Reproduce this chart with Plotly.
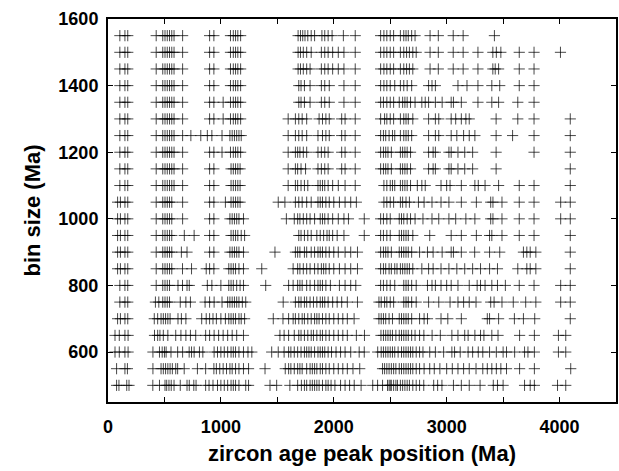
import plotly.graph_objects as go

bin_sizes = [1550, 1500, 1450, 1400, 1350, 1300, 1250, 1200, 1150, 1100, 1050,
             1000, 950, 900, 850, 800, 750, 700, 650, 600, 550, 500]

row_1550 = [105,150,175, 427,485,505,525,545,565,585,661, 900,938, 1085,1110,1130,1150,1175,
            1684,1705,1725,1745,1770,1800,1830, 1895,1920,1950,1985, 2085,2190,
            2415,2444,2470,2500,2530, 2590,2620,2640,2660,2690,2720, 2853,2926, 3058,3146, 3423]
row_1500 = [105,150,175, 427,485,505,525,545,565,585,661, 900,938, 1085,1110,1130,1150,1175,
            1684,1705,1730,1760,1800, 1890,1920,1950,1990,2040, 2090,2190,
            2415,2444,2470,2500,2530, 2590,2620,2645,2670,2700,2730, 2853,2926, 3058,3146, 3277,
            3409,3440,3480, 3643,3774, 4008]
row_1450 = [105,150,175, 427,485,505,525,545,565,585,661, 900,938, 1085,1110,1130,1150,1175,
            1684,1705,1730,1760,1790, 1890,1920,1950,1990,2040, 2090,2190,
            2415,2444,2470,2500,2530, 2590,2620,2645,2670,2700, 2853,2926, 3058,3146, 3277,
            3409,3430,3460, 3643,3774]
row_1400 = [105,150,175, 427,485,505,525,545,565,585,661, 900,938, 1085,1110,1130,1150,1175,
            1690,1710,1740,1790, 1890,1920,1960, 2090,2190,
            2415,2444,2470,2500,2540, 2590,2620,2650,2690, 2840,2870,2900, 3100,3180, 3277,
            3400,3470, 3643,3774]
row_1350 = [105,150,175, 427,485,505,525,545,565,585,661, 900,938, 1020, 1085,1110,1130,1150,1175,
            1690,1710,1740,1790, 1890,1920,1960, 2090,2190,
            2415,2440,2470,2500,2530, 2580,2610,2630,2650,2680,2720, 2780,2810,2840,2900,2960,
            3040,3060,3130, 3277, 3400,3460, 3630,3774]
row_1300 = [105,150,175, 427,485,505,525,545,565,585,661, 900,938, 1020, 1085,1110,1130,1150,1175,
            1596, 1660,1690,1720,1760, 1870,1900,1930,1960, 2070,2100,2190,
            2415,2450,2470,2500,2530, 2590,2620,2640,2660,2700, 2840,2900,2930,
            3040,3080,3130,3170,3200, 3438, 3630,3774, 4095]
row_1250 = [105,150,175, 427,485,505,525,545,565,585,661,734, 822,880,920,1010,
            1080,1100,1120,1140,1160,1180,
            1596,1660,1690,1720,1760, 1860,1900,1930,1960, 2070,2100,2190,
            2415,2440,2460,2490,2520,2540, 2590,2620,2640,2660,2690, 2840,2900,2930,
            3040,3090,3150,3200,3250, 3438, 3584, 3774, 4095]
row_1200 = [105,150,175, 427,485,505,525,545,565,585,661, 900,938,1010, 1085,1110,1130,1150,1175,
            1596,1660,1680,1700,1730,1760, 1860,1890,1920,1950, 2070,2100,2190,
            2415,2440,2460,2480,2510, 2590,2610,2630,2650,2680, 2840,2880,2900,
            3020,3040,3100,3160,3230, 3438, 3774, 4095]
row_1150 = [105,150,175, 427,485,505,525,545,565,585,661, 900,938, 1090,1110,1130,1150,1170,
            1596,1660,1680,1710,1750, 1860,1890,1920,1950, 2070,2100,2190,
            2415,2440,2460,2480,2510, 2590,2610,2630,2650,2680, 2840,2880,2900,
            3020,3040,3100,3160,3230, 3438, 4095]
row_1100 = [105,150,175, 427,485,505,525,545,565,585,661, 900,938, 1090,1110,1130,1150,1170,
            1596,1660,1680,1710,1740,1770, 1860,1880,1900,1920,1950,1990,2040, 2100,2190,
            2444,2470,2500,2520,2540, 2590,2610,2630,2650,2680, 2740,2780,2810,2950,
            3000,3030,3130, 3250,3280,3340,3460, 3643,3774, 4095]
row_1050 = [85,110,150,175, 427,485,505,525,545,565,661, 900,938,1040, 1090,1110,1130,1150,1170,
            1508,1567, 1660,1690,1720,1760,1800, 1860,1880,1900,1930,1960,2000,
            2050,2100,2150,2200,
            2444,2470,2500,2530, 2590,2610,2640,2670, 2750,2800,2870,2950, 3020,3130, 3263,
            3390,3410,3490, 3643,3774, 4010,4095]
row_1000 = [85,110,150,175, 427,485,505,525,545,565,661, 900,938,
            1080,1100,1120,1140,1160,1200,
            1580,1650,1680,1700,1730,1760,1790,1830, 1880,1900,1920,1950,1990,2040, 2090,2130, 2270,
            2415,2440,2470,2500, 2580,2600,2620,2650,2680,2720, 2790,2870,2930,
            3020,3080,3170,3250, 3390,3410,3490, 3643,3774, 4010,4095]
row_950 = [85,110,150,175, 427,485,505,525,545,565,676,763, 900,938,
           1090,1110,1130,1150,1180,1210,
           1690,1710,1740,1770,1800, 1850,1880,1910,1940,1960,1990,2030, 2090, 2270,
           2415,2440,2470,2500, 2580,2600,2620,2640,2660,2700, 2850, 3040,3130, 3263,
           3380,3400,3490, 3643,3774, 4095]
row_900 = [85,110,150,175, 427,485,505,525,545,565,650,700, 900,938,
           1080,1100,1120,1140,1160,1200, 1479,
           1660,1680,1700,1740,1760,1800,1830, 1860,1880,1900,1930,1960,2000,2040, 2100,2150, 2210,
           2415,2440,2460,2480,2510, 2580,2600,2620,2640,2660,2690, 2760, 2830,2880,2960,
           3040,3060,3130, 3248, 3380,3470, 3680,3710,3740,3790, 4095]
row_850 = [85,110,150,175, 427,485,505,525,545,565,660,740, 870,900,938,
           1070,1090,1110,1130,1160,1200, 1362,
           1640,1680,1700,1730,1760,1790,1830,1860,1890,1910,1930,1960,2000,2050, 2100,2150, 2210,
           2415,2440,2460,2490,2510,2540,2560,2590,2610,2630,2650,2670,2700, 2780,2840,2880,
           2950,3020,3090,3160,3230,3300,3380,3450, 3630, 3710,3740,3790, 4095]
row_800 = [105,150,175, 427,485,505,525,545, 620,660,700,720, 880,920,1000,
           1070,1090,1110,1140,1170,1200, 1397,
           1600,1640,1680,1700,1720,1760,1790,1830,1860,1880,1900,1930,1970, 2050,2100,2150,2195,
           2415,2440,2470,2500,2540, 2620,2640,2660,2690,2730,
           2830,2870,2900,2950,3000,3040,3100,3200, 3270,3300,3340,3400,3450,3520,
           3643,3774, 4010,4095]
row_750 = [105,150,175, 420,450,485,505,525,545, 640,690,730, 860,900,940,1010,
           1060,1080,1100,1120,1140,1160,1190,1220, 1552,
           1660,1690,1710,1740,1760,1790,1820,1850,1880,1900,1920,1950,1990,2030, 2070,2120,2210,
           2400,2420,2450,2470,2500,2530, 2620,2640,2660,2690,2730, 2840,2930,
           3030,3100,3150,3200,3260, 3390,3420,3490, 3590,3700,3790, 4010,4095]
row_700 = [85,110,150,175, 410,440,470,490,510,530,550, 620,650,690,
           830,870,900,930,960,1000, 1040,1070,1090,1110,1130,1160,1180,1210, 1464, 1550,
           1600,1640,1660,1690,1720,1740,1770,1800,1830,1850,1870,1900,1930,1960,2000,2040,
           2080,2120,2180,
           2400,2420,2440,2460,2490,2520, 2580,2600,2620,2640,2660,2690, 2760,2800,2830,
           2950,3010, 3130, 3360,3380,3460, 3600,3680,3780, 4095]
row_650 = [62,100,150,178, 412,440,460,490,530,600, 646,690,730,777,
           865,900,940,980,1020,1060,1100,1140,1200,
           1523,1560,1600,1650,1690,1710,1740,1770,1800,1820,1850,1880,1900,1930,1960,2000,
           2040,2080,2120,2200, 2272,
           2418,2440,2460,2480,2500,2520,2550,2580,2600,2620,2640,2660,2690,2720,2760,2798,
           2871,2944, 3046,3100,3160,3190,3250,3300,3330,3400,3455, 3646,3777, 3990,4055]
row_600 = [62,100,150,178, 398,456,480,500,515,558,617,661,719,740,763,810,840,
           940,970,1000,1030,1060,1090,1110,1130,1160,1200,1240,1274, 1450,
           1508,1560,1600,1620,1650,1680,1710,1740,1760,1780,1800,1830,1860,1880,1900,1920,
           1950,1980,2020,2060,2100,2150,2225, 2270,
           2389,2420,2440,2460,2480,2500,2520,2540,2570,2600,2620,2640,2660,2680,2700,2730,
           2760,2790,2850,2900,2973,
           3046,3070,3120,3190,3230,3280,3320,3380,3440,3500,3530, 3602, 3690,3720,3777, 3990,4055]
row_550 = [76,150,172, 398,470,490,510,530,550,570,600,617,675,792,865,
           938,960,990,1020,1050,1080,1100,1130,1160,1200,1245, 1391,
           1570,1600,1620,1650,1680,1700,1720,1760,1790,1810,1830,1850,1880,1900,1930,1960,
           2000,2040,2080,2120,2170, 2230,
           2432,2450,2470,2490,2510,2530,2550,2580,2600,2620,2640,2660,2680,2700,2730,2760,
           2800,2850,2890,2940,3000,3050,3100,3150,3200,3260,3320,3360,3400,3440,3480,3530,
           3646,3777, 4099]
row_500 = [76,97,166,186, 397,456,505,520,540,560,585,640,700,720,760,780,
           865,895,930,970,1000,1030,1060,1090,1110,1130,1160,1220,1245, 1435,1494,
           1611,1680,1713,1740,1760,1790,1810,1830,1850,1870,1900,1930,1950,1976,2010,2060,
           2100,2140,2181, 2242,
           2345,2388,2432,2476,2490,2500,2510,2530,2550,2564,2590,2610,2630,2650,2670,2700,
           2730,2760,2797, 2885,2920,2958, 3060,3130,3200,3296, 3413,3450,3500,
           3690,3740,3777, 3982,4055]

rows = [row_1550, row_1500, row_1450, row_1400, row_1350, row_1300, row_1250, row_1200,
        row_1150, row_1100, row_1050, row_1000, row_950, row_900, row_850, row_800,
        row_750, row_700, row_650, row_600, row_550, row_500]

x_tick_vals = [0, 500, 1000, 1500, 2000, 2500, 3000, 3500, 4000, 4500]
x_tick_text = ["0", "", "1000", "", "2000", "", "3000", "", "4000", ""]
y_tick_vals = [600, 800, 1000, 1200, 1400, 1600]

xs, ys = [], []
for b, r in zip(bin_sizes, rows):
    xs.extend(r)
    ys.extend([b] * len(r))

fig = go.Figure()
fig.add_trace(go.Scatter(
    x=xs, y=ys, mode="markers",
    marker=dict(symbol="cross-thin", size=8, color="rgba(0,0,0,0.72)",
                line=dict(width=1, color="rgba(0,0,0,0.72)")),
    showlegend=False, hoverinfo="x+y"))

font_fam = "Liberation Sans, Arial, sans-serif"
fig.update_layout(
    width=619, height=471,
    margin=dict(l=108, r=1, t=19, b=69),
    paper_bgcolor="white", plot_bgcolor="white",
    font=dict(family=font_fam, color="black"),
)
fig.update_xaxes(
    range=[0, 4500], tickvals=x_tick_vals, ticktext=x_tick_text,
    ticks="inside", ticklen=5, tickwidth=1, tickcolor="black",
    showline=True, linewidth=2, linecolor="black", mirror="ticks",
    showgrid=False, zeroline=False, ticklabelstandoff=7,
    tickfont=dict(size=18, weight="bold", family=font_fam),
    title=dict(text="zircon age peak position (Ma)",
               font=dict(size=22, weight="bold", family=font_fam), standoff=10),
)
fig.update_yaxes(
    range=[450, 1600], tickvals=y_tick_vals,
    ticks="inside", ticklen=5, tickwidth=1, tickcolor="black",
    showline=True, linewidth=2, linecolor="black", mirror="ticks",
    showgrid=False, zeroline=False, ticklabelstandoff=4,
    tickfont=dict(size=18, weight="bold", family=font_fam),
    title=dict(text="bin size (Ma)",
               font=dict(size=22, weight="bold", family=font_fam), standoff=12),
)

fig.write_html("out.html")
